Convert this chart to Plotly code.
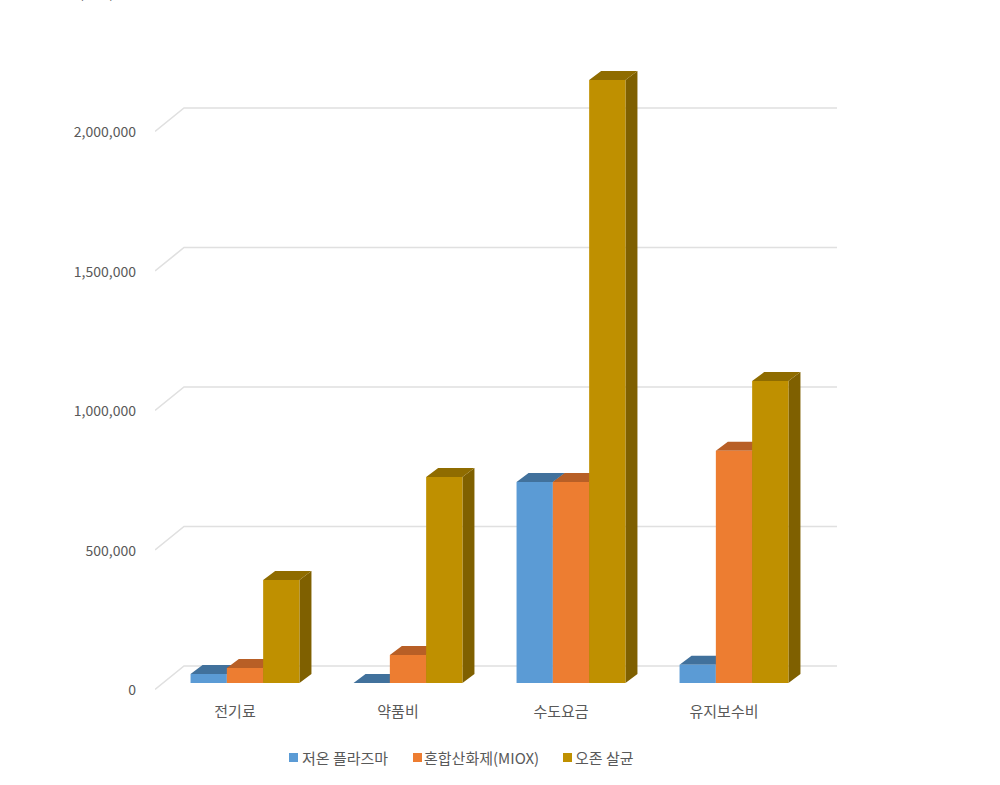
import plotly.graph_objects as go

categories = ["전기료", "약품비", "수도요금", "유지보수비"]
series_names = ["저온 플라즈마", "혼합산화제(MIOX)", "오존 살균"]
plasma = [32000, 0, 720000, 65000]
miox = [54000, 100000, 720000, 832000]
ozone = [369000, 738000, 2161000, 1082000]
tick_values = [0, 500000, 1000000, 1500000, 2000000]
front_colors = ["#5b9bd5", "#ed7d31", "#bf9000"]
top_colors = ["#41719c", "#b85f26", "#8f6c00"]
side_colors = ["#335a7e", "#8f4f1f", "#7f6000"]
legend_swatch_px = [289, 413, 563]
legend_text_px = [302, 424, 575]

W, H = 1000, 785
L, R, T, B = 155, 837, 60, 700
ZERO_PX = 683
CAT0_PX, CAT_PX = 245, 163.0
BAR_PX = 36.3
V_PER_PX = 1e6 / 279.0
dx = 12 / CAT_PX
dy = 9 * V_PER_PX
w = BAR_PX / CAT_PX
xr = [(L - CAT0_PX) / CAT_PX, (R - CAT0_PX) / CAT_PX]
yr = [(ZERO_PX - B) * V_PER_PX, (ZERO_PX - T) * V_PER_PX]
wall_x = (184 - CAT0_PX) / CAT_PX
wall_dy = 17 * V_PER_PX
front_dy = -6.5 * V_PER_PX
label_dy = -7.5 * V_PER_PX
FONT = "Noto Sans CJK KR"
label_font = dict(family=FONT, size=14, color="#595959")
cat_font = dict(family=FONT, size=15, color="#595959")
legend_font = dict(family=FONT, size=15, color="#595959")


def px_x(p):
    return (p - L) / (R - L)


def px_y(p):
    return (B - p) / (B - T)


fig = go.Figure()

# back wall gridlines and the floor/wall diagonals
gx, gy = [], []
for v in tick_values:
    gx += [xr[0], wall_x, xr[1], None]
    gy += [v + front_dy, v + wall_dy, v + wall_dy, None]
fig.add_trace(go.Scatter(x=gx, y=gy, mode="lines", line=dict(color="#e0e0e0", width=1.6),
                         showlegend=False, hoverinfo="skip", xaxis="x", yaxis="y"))

all_series = [plasma, miox, ozone]
for j, values in enumerate(all_series):
    sx, sy, tx, ty = [], [], [], []
    for i, v in enumerate(values):
        x0 = i + (j - 1.5) * w
        x1 = x0 + w
        sx += [x1, x1 + dx, x1 + dx, x1, x1, None]
        sy += [0, dy, v + dy, v, 0, None]
        tx += [x0, x0 + dx, x1 + dx, x1, x0, None]
        ty += [v, v + dy, v + dy, v, v, None]
    fig.add_trace(go.Scatter(x=sx, y=sy, mode="lines", fill="toself", fillcolor=side_colors[j],
                             line=dict(width=0, color=side_colors[j]), showlegend=False,
                             hoverinfo="skip", xaxis="x", yaxis="y"))
    fig.add_trace(go.Scatter(x=tx, y=ty, mode="lines", fill="toself", fillcolor=top_colors[j],
                             line=dict(width=0, color=top_colors[j]), showlegend=False,
                             hoverinfo="skip", xaxis="x", yaxis="y"))

for j, values in enumerate(all_series):
    fig.add_trace(go.Bar(x=list(range(len(categories))), y=values, name=series_names[j],
                         marker=dict(color=front_colors[j], line=dict(width=0)),
                         showlegend=False, xaxis="x2", yaxis="y2"))

# legend row: tight swatch-to-label spacing that the built-in legend cannot reach
for j, name in enumerate(series_names):
    fig.add_shape(type="rect", xref="paper", yref="paper", layer="above",
                  x0=px_x(legend_swatch_px[j]), x1=px_x(legend_swatch_px[j] + 9),
                  y0=px_y(762), y1=px_y(753), fillcolor=front_colors[j], line=dict(width=0))
    fig.add_annotation(text=name, xref="paper", yref="paper",
                       x=px_x(legend_text_px[j] - 2), y=px_y(757),
                       xanchor="left", yanchor="middle", showarrow=False, font=legend_font)

# unit note: cut off by the top edge in the reference as well
fig.add_annotation(text="(단위)", xref="paper", yref="paper",
                   x=px_x(96), y=px_y(3.7), xanchor="center", yanchor="bottom",
                   showarrow=False, font=label_font)

fig.update_layout(
    width=W, height=H, margin=dict(l=L, r=W - R, t=T, b=H - B),
    paper_bgcolor="white", plot_bgcolor="white",
    barmode="group", bargap=1 - 3 * w, bargroupgap=0,
    font=label_font, showlegend=False,
    xaxis=dict(range=xr, tickmode="array",
               tickvals=[i - 10 / CAT_PX for i in range(len(categories))],
               ticktext=categories, tickfont=cat_font, showgrid=False, zeroline=False,
               showline=False, ticks="", ticklabelstandoff=1),
    yaxis=dict(range=yr, tickmode="array", tickvals=[v + label_dy for v in tick_values],
               ticktext=[f"{v:,}" for v in tick_values], showgrid=False, zeroline=False,
               showline=False, ticks="", ticklabelstandoff=18),
    xaxis2=dict(range=xr, overlaying="x", visible=False),
    yaxis2=dict(range=yr, overlaying="y", visible=False),
)

fig.write_html("out.html", config={"displayModeBar": False},
               post_script="document.body.style.margin='0';")
